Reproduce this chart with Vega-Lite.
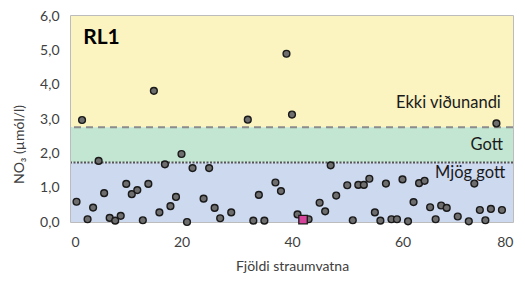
{
  "$schema": "https://vega.github.io/schema/vega-lite/v6.json",
  "width": 442,
  "height": 206,
  "autosize": "none",
  "padding": {"left": 71, "top": 16, "right": 12, "bottom": 62},
  "background": "white",
  "config": {
    "font": "Lato",
    "view": {"stroke": "#A6A6A6", "strokeWidth": 1.5},
    "axis": {"labelFont": "Lato", "titleFont": "Lato", "labelColor": "#404040", "titleColor": "#404040", "labelFontSize": 13, "titleFontSize": 14, "titleFontWeight": "normal", "grid": false, "ticks": false, "domain": false, "labelOverlap": false},
    "axisY": {"labelOverlap": false, "tickCount": 7}
  },
  "datasets": {
    "bands": [
      {"band": "Ekki viðunandi", "lo": 2.76, "hi": 6},
      {"band": "Gott", "lo": 1.73, "hi": 2.76},
      {"band": "Mjög gott", "lo": 0, "hi": 1.73}
    ],
    "points": [
      {"n": 1, "no3": 0.59}, {"n": 2, "no3": 2.97}, {"n": 3, "no3": 0.08}, {"n": 4, "no3": 0.42},
      {"n": 5, "no3": 1.78}, {"n": 6, "no3": 0.84}, {"n": 7, "no3": 0.12}, {"n": 8, "no3": 0.04},
      {"n": 9, "no3": 0.18}, {"n": 10, "no3": 1.11}, {"n": 11, "no3": 0.81}, {"n": 12, "no3": 0.93},
      {"n": 13, "no3": 0.05}, {"n": 14, "no3": 1.11}, {"n": 15, "no3": 3.82}, {"n": 16, "no3": 0.28},
      {"n": 17, "no3": 1.68}, {"n": 18, "no3": 0.46}, {"n": 19, "no3": 0.73}, {"n": 20, "no3": 1.98},
      {"n": 21, "no3": 0.0}, {"n": 22, "no3": 1.57}, {"n": 24, "no3": 0.68}, {"n": 25, "no3": 1.57},
      {"n": 26, "no3": 0.41}, {"n": 27, "no3": 0.11}, {"n": 29, "no3": 0.28}, {"n": 32, "no3": 2.98},
      {"n": 33, "no3": 0.04}, {"n": 34, "no3": 0.79}, {"n": 35, "no3": 0.04}, {"n": 37, "no3": 1.15},
      {"n": 38, "no3": 0.9}, {"n": 39, "no3": 4.9}, {"n": 40, "no3": 3.13}, {"n": 41, "no3": 0.22},
      {"n": 43, "no3": 0.08}, {"n": 45, "no3": 0.56}, {"n": 46, "no3": 0.31}, {"n": 47, "no3": 1.65},
      {"n": 48, "no3": 0.77}, {"n": 50, "no3": 1.07}, {"n": 51, "no3": 0.05}, {"n": 52, "no3": 1.08},
      {"n": 53, "no3": 1.08}, {"n": 54, "no3": 1.26}, {"n": 55, "no3": 0.28}, {"n": 56, "no3": 0.04},
      {"n": 57, "no3": 1.12}, {"n": 58, "no3": 0.08}, {"n": 59, "no3": 0.08}, {"n": 60, "no3": 1.24},
      {"n": 61, "no3": 0.02}, {"n": 62, "no3": 0.58}, {"n": 63, "no3": 1.13}, {"n": 64, "no3": 1.2},
      {"n": 65, "no3": 0.43}, {"n": 66, "no3": 0.08}, {"n": 67, "no3": 0.48}, {"n": 68, "no3": 0.41},
      {"n": 70, "no3": 0.16}, {"n": 72, "no3": 0.02}, {"n": 73, "no3": 1.12}, {"n": 74, "no3": 0.35},
      {"n": 75, "no3": 0.05}, {"n": 76, "no3": 0.38}, {"n": 77, "no3": 2.87}, {"n": 78, "no3": 0.35}
    ],
    "highlight": [{"n": 42, "no3": 0.07}],
    "thresholds": [{"kind": "dashed", "value": 2.76}, {"kind": "dotted", "value": 1.73}],
    "one": [{"k": 1}]
  },
  "layer": [
    {
      "data": {"name": "bands"},
      "mark": {"type": "rect"},
      "encoding": {
        "y": {"field": "lo", "type": "quantitative", "scale": {"domain": [0, 6], "nice": false, "zero": false}, "axis": {"values": [0, 1, 2, 3, 4, 5, 6], "labelOverlap": false, "labelExpr": "replace(format(datum.value, '.1f'), '.', ',')", "labelPadding": 12, "labelFontSize": 14, "title": "NO₃ (µmól/l)", "titleX": -45, "titleY": 128, "titleAngle": -90}},
        "y2": {"field": "hi"},
        "color": {"field": "band", "type": "nominal", "scale": {"domain": ["Ekki viðunandi", "Gott", "Mjög gott"], "range": ["#FBF3C0", "#C2E6D2", "#CDD9EF"]}, "legend": null}
      }
    },
    {
      "data": {"name": "thresholds"},
      "transform": [{"filter": "datum.kind == 'dashed'"}],
      "mark": {"type": "rule", "color": "#8C8C8C", "strokeWidth": 2, "strokeDash": [7, 5]},
      "encoding": {"y": {"field": "value", "type": "quantitative"}}
    },
    {
      "data": {"name": "thresholds"},
      "transform": [{"filter": "datum.kind == 'dotted'"}],
      "mark": {"type": "rule", "color": "#555555", "strokeWidth": 2, "strokeDash": [2, 1.5]},
      "encoding": {"y": {"field": "value", "type": "quantitative"}}
    },
    {
      "data": {"name": "points"},
      "mark": {"type": "point", "shape": "circle", "filled": true, "fill": "#6E6E6E", "stroke": "#1A1A1A", "strokeWidth": 1.4, "size": 46, "opacity": 1},
      "encoding": {
        "x": {"field": "n", "type": "quantitative", "scale": {"domain": [0, 80], "nice": false, "zero": false}, "axis": {"values": [0, 20, 40, 60, 80], "labelOverlap": false, "labelFontSize": 14, "labelPadding": 13, "title": "Fjöldi straumvatna", "titlePadding": 10, "titleX": 221, "titleAlign": "center"}},
        "y": {"field": "no3", "type": "quantitative"}
      }
    },
    {
      "data": {"name": "highlight"},
      "mark": {"type": "square", "filled": true, "fill": "#D6439B", "stroke": "#1A1A1A", "strokeWidth": 1.3, "size": 72, "opacity": 1},
      "encoding": {
        "x": {"field": "n", "type": "quantitative"},
        "y": {"field": "no3", "type": "quantitative"}
      }
    },
    {
      "data": {"name": "one"},
      "mark": {"type": "text", "text": "RL1", "font": "Lato", "fontSize": 21, "fontWeight": "bold", "align": "left", "baseline": "middle", "color": "#000000"},
      "encoding": {"x": {"datum": 2.2}, "y": {"datum": 5.35}}
    },
    {
      "data": {"name": "one"},
      "mark": {"type": "text", "text": "Ekki viðunandi", "font": "Lato", "fontSize": 16.5, "align": "right", "baseline": "middle", "color": "#1A1A1A"},
      "encoding": {"x": {"datum": 77.8}, "y": {"datum": 3.47}}
    },
    {
      "data": {"name": "one"},
      "mark": {"type": "text", "text": "Gott", "font": "Lato", "fontSize": 16.5, "align": "right", "baseline": "middle", "color": "#1A1A1A"},
      "encoding": {"x": {"datum": 78.2}, "y": {"datum": 2.23}}
    },
    {
      "data": {"name": "one"},
      "mark": {"type": "text", "text": "Mjög gott", "font": "Lato", "fontSize": 16.5, "align": "right", "baseline": "middle", "color": "#1A1A1A"},
      "encoding": {"x": {"datum": 78.6}, "y": {"datum": 1.42}}
    }
  ]
}
